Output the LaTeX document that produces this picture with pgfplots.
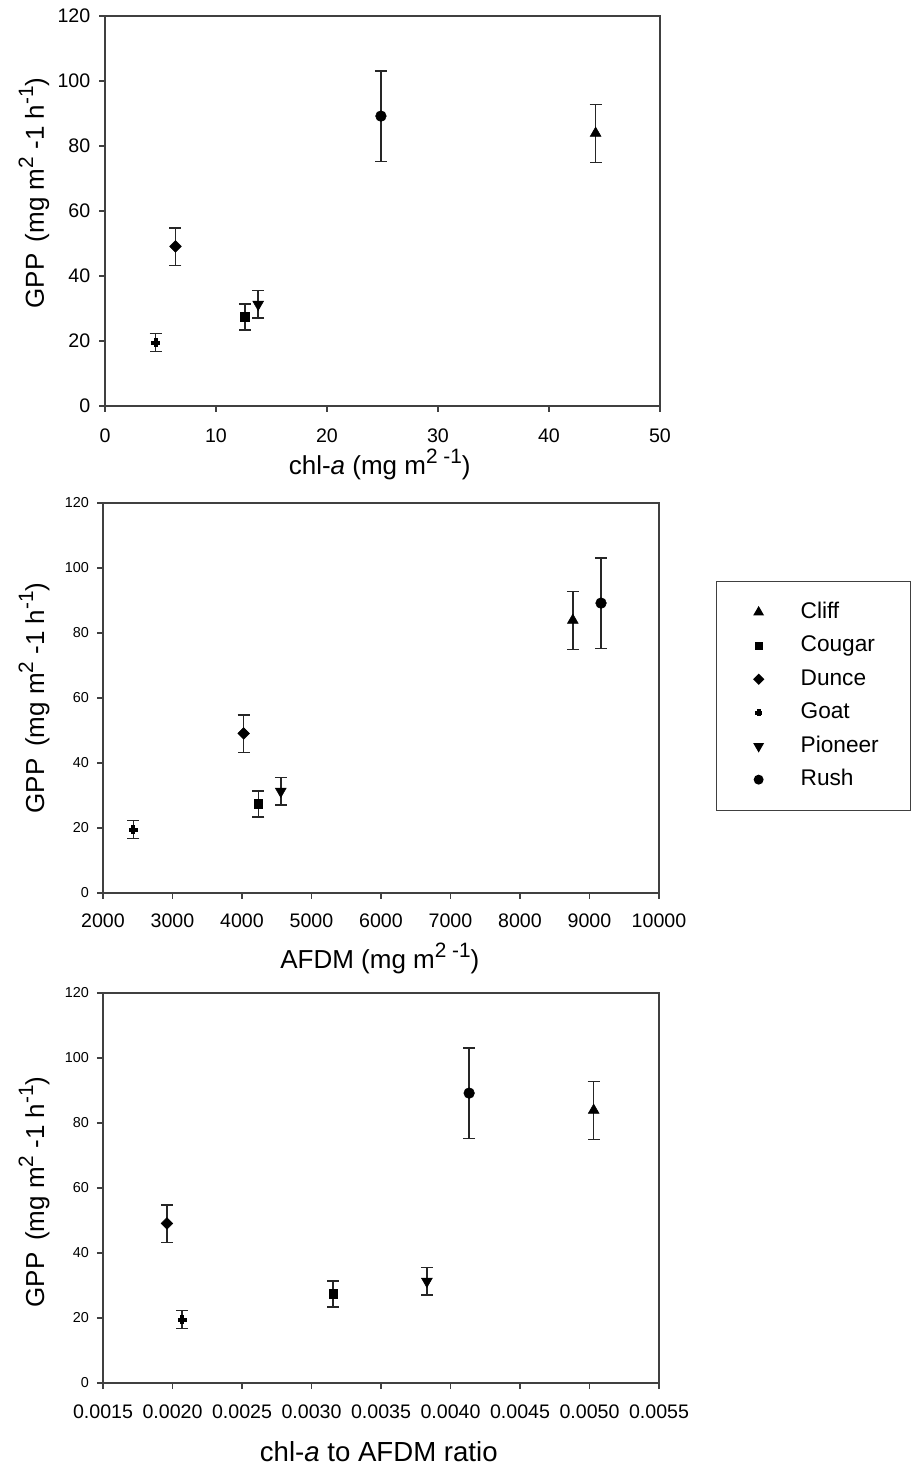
\documentclass[border=0pt]{standalone}
\usepackage{fontspec}
\setmainfont{Liberation Sans}
\usepackage{pgfplots}
\pgfplotsset{compat=1.18}
\newcommand\sups[1]{\raisebox{0.42em}{\scalebox{0.8}{#1}}}
\newcommand\fs[1]{\fontsize{#1}{#1}\selectfont}
\pgfplotsset{
  gppaxis/.style={
    scale only axis, tick align=outside, tick pos=left,
    axis line style={black!75, line width=1.1pt},
    every tick/.style={black!75, line width=1.1pt},
    major tick length=4.5pt,
    ymin=0, ymax=120, ytick={0,20,...,120},
    /pgf/number format/assume math mode=true,
    /pgf/number format/1000 sep={},
    scaled x ticks=false,
    ylabel={GPP\,\ (mg m\sups{2} -1 h\sups{-1})},
    ylabel style={font=\fs{19.5pt}, anchor=center},
    xlabel style={font=\fs{19.5pt}, anchor=center},
    width=417pt, height=292.5pt,
  },
  eb/.style={only marks, black,
    error bars/y dir=both, error bars/y explicit,
    error bars/error bar style={line width=1.1pt, black!85},
    error bars/error mark options={rotate=90, line width=1.1pt, black!85, mark size=4.5pt}},
  legimg/.style={legend image code/.code={\path[draw=none,fill=none] (-31.5pt,-2pt) rectangle (31.5pt,2pt); \draw[##1, every mark/.append style={scale=0.8}] plot coordinates {(0pt,0pt)};}},
  mCliff/.style={mark=triangle*, mark size=4.7pt},
  mCougar/.style={mark=square*, mark size=3.2pt},
  mDunce/.style={mark=square*, mark size=3.1pt, mark options={rotate=45}},
  mGoat/.style={mark=+, mark size=3.3pt, mark options={line width=3pt}},
  mPioneer/.style={mark=triangle*, mark size=4.7pt, mark options={rotate=180}},
  mRush/.style={mark=*, mark size=4pt},
}
\begin{document}
\begin{tikzpicture}
\useasboundingbox (0,0) rectangle (684pt,1102.5pt);
% ---------- Panel 1 ----------
\begin{axis}[gppaxis,
  at={(78.75pt,798pt)}, anchor=south west, width=416.25pt,
  xmin=0, xmax=50, xtick={0,10,...,50},
  xticklabel style={font=\fs{14.7pt}, yshift=-9pt},
  yticklabel style={font=\fs{14.7pt}, xshift=-3pt},
  xlabel={chl-\textit{a} (mg m\sups{2 -1})},
  xlabel style={at={(axis description cs:0.495,-0.151)}},
  ylabel style={at={(axis description cs:-0.128,0.546)}},
]
\addplot[eb, mCliff] coordinates {(44.2,83.9) += (0,8.9) -= (0,8.9)};
\addplot[eb, mCougar] coordinates {(12.6,27.4) += (0,4.0) -= (0,4.0)};
\addplot[eb, mDunce] coordinates {(6.35,49.1) += (0,5.6) -= (0,5.8)};
\addplot[eb, mGoat] coordinates {(4.55,19.5) += (0,2.8) -= (0,2.8)};
\addplot[eb, mPioneer] coordinates {(13.8,31.3) += (0,4.3) -= (0,4.2)};
\addplot[eb, mRush] coordinates {(24.86,89.2) += (0,13.9) -= (0,13.9)};
\end{axis}
% ---------- Panel 2 ----------
\begin{axis}[gppaxis,
  at={(77.25pt,432.75pt)}, anchor=south west,
  xmin=2000, xmax=10000, xtick={2000,3000,...,10000},
  xticklabel style={font=\fs{14.7pt}, yshift=-7.5pt},
  yticklabel style={font=\fs{10.8pt}, xshift=-2.5pt},
  xlabel={AFDM (mg m\sups{2 -1})},
  xlabel style={at={(axis description cs:0.498,-0.167)}},
  ylabel style={at={(axis description cs:-0.124,0.5)}},
  legend cell align=left,
  legend style={at={(1.1025,0.8)}, anchor=north west, draw=black!75, line width=1pt,
    inner xsep=0pt, inner ysep=14.5pt, row sep=8.1pt, column sep=0pt, font=\fs{17pt},
    nodes={text width=82.5pt, text height=13pt, text depth=4pt, inner sep=0pt}},
]
\addplot[eb, mCliff, legimg] coordinates {(8760,83.9) += (0,8.9) -= (0,8.9)};
\addlegendentry{Cliff}
\addplot[eb, mCougar, legimg] coordinates {(4236,27.4) += (0,4.0) -= (0,4.0)};
\addlegendentry{Cougar}
\addplot[eb, mDunce, legimg] coordinates {(4024,49.1) += (0,5.6) -= (0,5.8)};
\addlegendentry{Dunce}
\addplot[eb, mGoat, legimg] coordinates {(2437,19.5) += (0,2.8) -= (0,2.8)};
\addlegendentry{Goat}
\addplot[eb, mPioneer, legimg] coordinates {(4558,31.3) += (0,4.3) -= (0,4.2)};
\addlegendentry{Pioneer}
\addplot[eb, mRush, legimg] coordinates {(9166,89.2) += (0,13.9) -= (0,13.9)};
\addlegendentry{Rush}
\end{axis}
% ---------- Panel 3 ----------
\begin{axis}[gppaxis,
  at={(77.25pt,65.25pt)}, anchor=south west,
  xmin=0.0015, xmax=0.0055, xtick={0.0015,0.0020,0.0025,0.0030,0.0035,0.0040,0.0045,0.0050,0.0055},
  xticklabel style={font=\fs{14.7pt}, yshift=-8pt, /pgf/number format/.cd, fixed, fixed zerofill, precision=4},
  yticklabel style={font=\fs{10.8pt}, xshift=-2.5pt},
  xlabel={chl-\textit{a} to AFDM ratio},
  xlabel style={font=\fs{20.7pt}, at={(axis description cs:0.496,-0.177)}},
  ylabel style={at={(axis description cs:-0.124,0.49)}},
]
\addplot[eb, mCliff] coordinates {(0.00503,83.9) += (0,8.9) -= (0,8.9)};
\addplot[eb, mCougar] coordinates {(0.003155,27.4) += (0,4.0) -= (0,4.0)};
\addplot[eb, mDunce] coordinates {(0.00196,49.1) += (0,5.6) -= (0,5.8)};
\addplot[eb, mGoat] coordinates {(0.00207,19.5) += (0,2.8) -= (0,2.8)};
\addplot[eb, mPioneer] coordinates {(0.00383,31.3) += (0,4.3) -= (0,4.2)};
\addplot[eb, mRush] coordinates {(0.004134,89.2) += (0,13.9) -= (0,13.9)};
\end{axis}
\end{tikzpicture}
\end{document}
